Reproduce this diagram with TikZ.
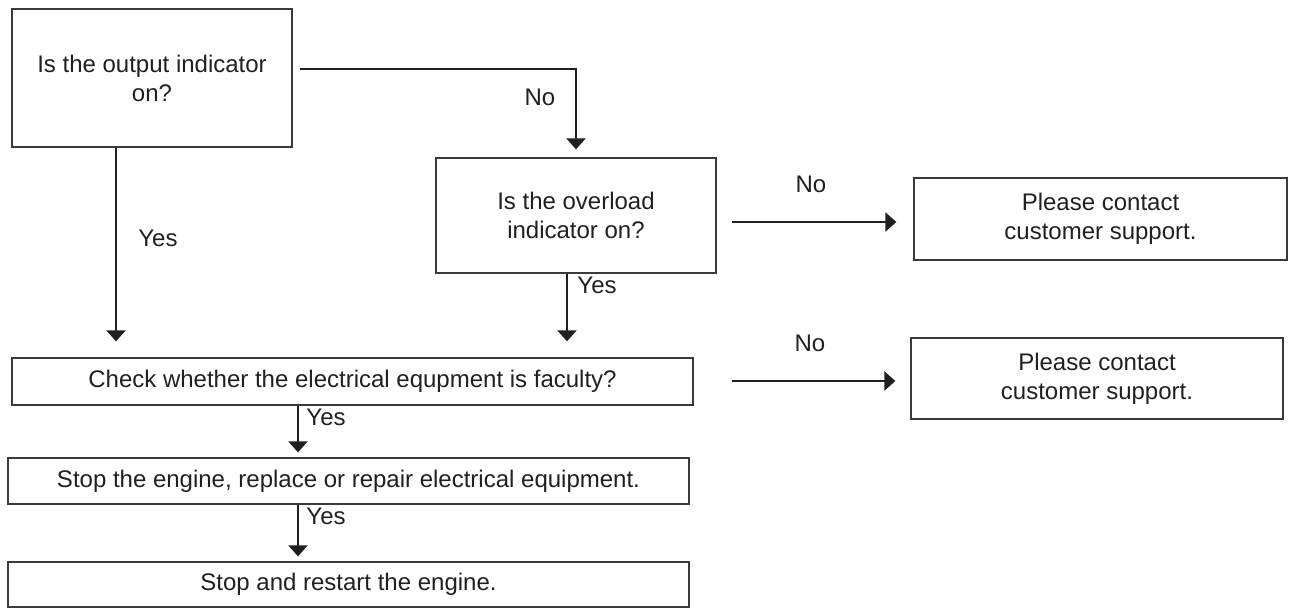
\documentclass[tikz,border=0pt]{standalone}
\usepackage{fontspec}
\setmainfont{Liberation Sans}
\usetikzlibrary{arrows.meta}
\definecolor{ink}{HTML}{231F20}
\definecolor{edge}{HTML}{3A3A3A}
\begin{document}
\begin{tikzpicture}[x=1pt,y=-1pt,
  every node/.style={font=\fontsize{24}{29}\selectfont, text=ink},
  box/.style={draw=edge, line width=1.3pt, align=center, inner sep=0pt},
  arr/.style={draw=ink, line width=2.3pt, -{Triangle[width=19pt,length=11pt]}},
  lbl/.style={inner sep=0pt}]
\useasboundingbox (0,0) rectangle (1290,608);
\node[box, minimum width=280pt, minimum height=138pt] (b1) at (152,78) {Is the output indicator\\on?};
\node[box, minimum width=280pt, minimum height=115pt] (b2) at (576,215.5) {Is the overload\\indicator on?};
\node[box, minimum width=373pt, minimum height=82pt] (b3) at (1100.5,219) {Please contact\\customer support.};
\node[box, minimum width=681pt, minimum height=47pt] (b4) at (352.5,381.5) {Check whether the electrical equpment is faculty?};
\node[box, minimum width=681pt, minimum height=46pt] (b5) at (348.5,481) {Stop the engine, replace or repair electrical equipment.};
\node[box, minimum width=681pt, minimum height=45pt] (b6) at (348.5,584.5) {Stop and restart the engine.};
\node[box, minimum width=372pt, minimum height=81pt] (b7) at (1097,378.5) {Please contact\\customer support.};
% connectors
\coordinate (s1) at ([xshift=7pt,yshift=9pt]b1.east);
\coordinate (e1) at ([yshift=8pt]b2.north);
\draw[arr] (s1) -| (e1);
\coordinate (s2) at ([xshift=-36pt]b1.south);
\coordinate (e2) at ([yshift=16pt]b4.north);
\draw[arr] (s2) -- (s2 |- e2);
\coordinate (s3) at ([xshift=-9pt]b2.south);
\draw[arr] (s3) -- (s3 |- e2);
\coordinate (s4) at ([xshift=15pt,yshift=-6.5pt]b2.east);
\coordinate (e4) at ([xshift=-17pt]b3.west);
\draw[arr] (s4) -- (s4 -| e4);
\coordinate (s5) at ([xshift=38pt,yshift=0.5pt]b4.east);
\coordinate (e5) at ([xshift=-15pt]b7.west);
\draw[arr] (s5) -- (s5 -| e5);
\coordinate (s6) at (b4.south -| 298,0);
\coordinate (e6) at ([yshift=5pt]b5.north);
\draw[arr] (s6) -- (s6 |- e6);
\coordinate (s7) at (b5.south -| 298,0);
\coordinate (e7) at ([yshift=5pt]b6.north);
\draw[arr] (s7) -- (s7 |- e7);
% labels
\node[lbl] (l1) at (540,97) {No};
\node[lbl] (l2) at (158,238) {Yes};
\node[lbl] (l3) at (597,285) {Yes};
\node[lbl] (l4) at (811,184) {No};
\node[lbl] (l5) at (810,343) {No};
\node[lbl] (l6) at (326,417) {Yes};
\node[lbl] (l7) at (326,516) {Yes};
\end{tikzpicture}
\end{document}
